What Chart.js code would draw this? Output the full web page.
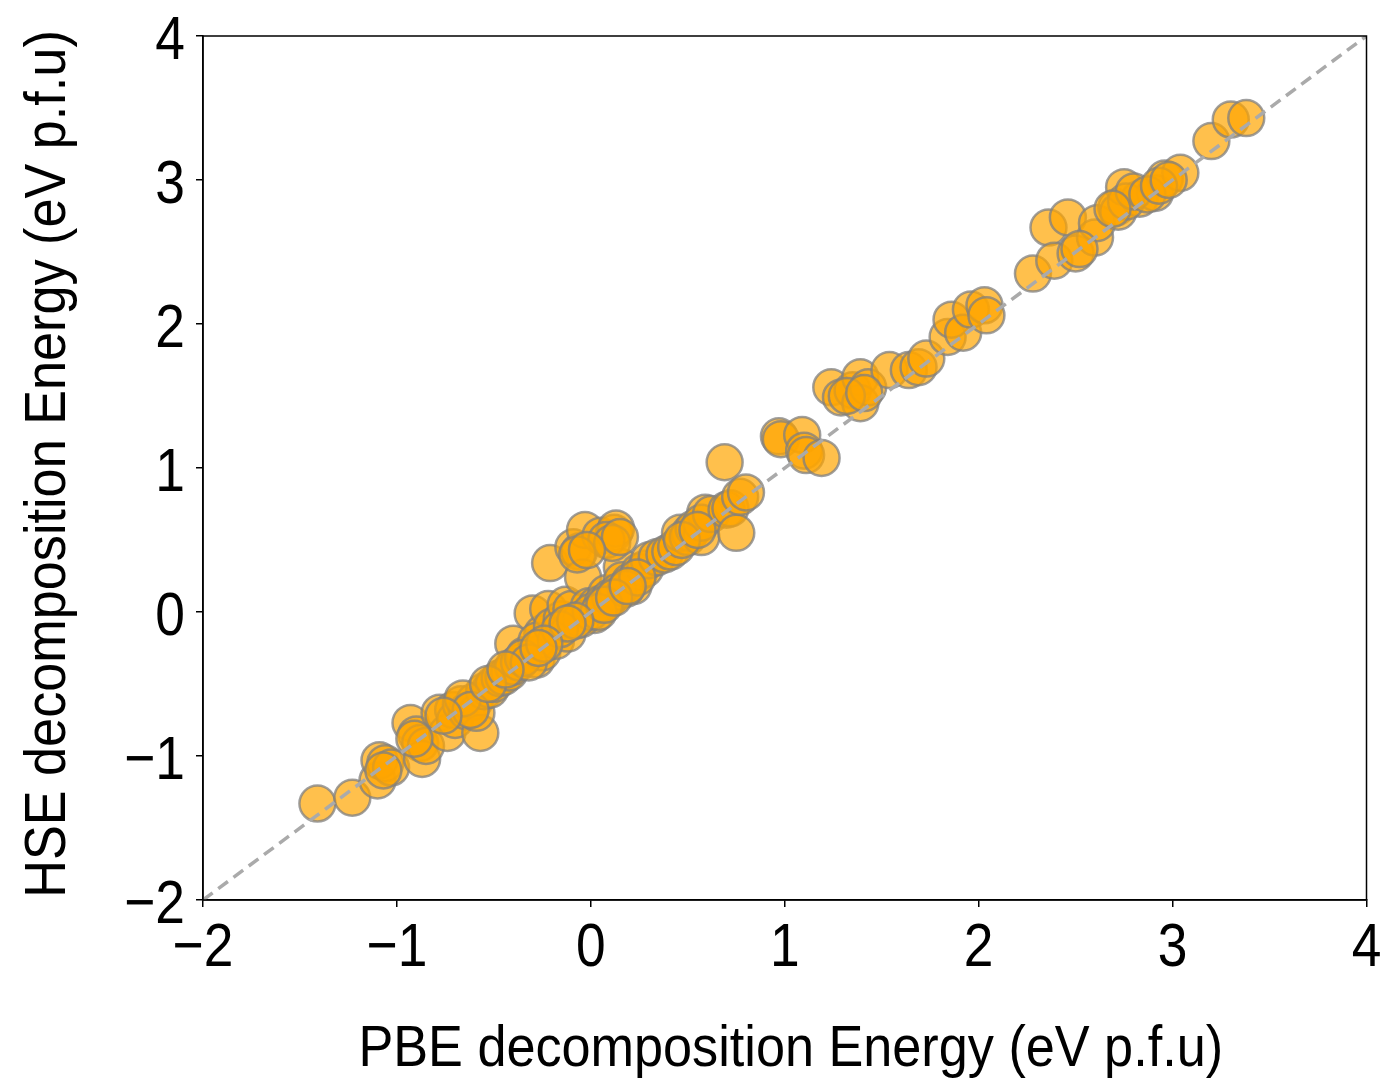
<!DOCTYPE html>
<html>
<head>
<meta charset="utf-8">
<script src="https://cdn.jsdelivr.net/npm/chart.js@4/dist/chart.umd.min.js"></script>
<style>
html,body{margin:0;padding:0;background:#fff;}
#wrap{width:1387px;height:1086px;position:relative;}
</style>
</head>
<body>
<div id="wrap"><canvas id="c" width="1387" height="1086"></canvas></div>
<script>
// PBE decomposition energy (x) and HSE decomposition energy (y), eV p.f.u
const pbe = [
 -1.41,-1.23,-1.10,-1.09,-1.06,-1.03,-0.93,-0.90,-0.88,-0.87,-0.85,
 -0.78,-0.74,-0.71,-0.70,-0.67,-0.64,-0.60,-0.57,-0.59,-0.55,-0.52,-0.50,-0.47,
 -0.45,-0.42,-0.40,-0.40,-0.37,-0.34,-0.30,-0.28,-0.25,-0.25,-0.28,-0.22,-0.20,-0.18,-0.15,-0.13,-0.12,-0.10,
 -0.21,-0.09,-0.06,-0.04,-0.03,-0.01,0.02,0.05,0.03,0.08,0.12,0.13,0.16,0.09,0.16,0.20,
 0.22,0.25,0.28,0.30,0.34,0.38,0.41,0.44,0.46,0.51,0.50,0.53,0.57,0.59,0.57,0.62,0.70,0.72,0.75,0.77,0.80,0.69,
 0.97,0.98,1.09,1.10,1.11,1.19,
 1.24,1.29,1.35,1.39,1.39,1.43,1.54,1.64,1.69,1.73,
 1.84,1.86,1.92,1.96,2.03,2.04,
 2.28,2.36,2.39,2.46,2.50,2.60,2.61,2.71,2.72,2.75,2.83,2.91,2.96,3.04,
 3.20,3.30,3.38,
 -0.05,0.00,0.06,0.10,0.14,-0.35,-0.32,-0.16,0.18,0.24,0.04,0.07,-0.08,-0.66,-0.62,-0.53,-0.44,
 0.08,0.11,0.15,-0.07,-0.02,0.12,0.19,-0.12,-0.24,-0.27,-1.07,-0.91,-0.76,2.76,2.80,2.87,2.93,2.98,2.69,2.52,1.32,1.41,0.47,0.55
];
const hse = [
 -1.33,-1.29,-1.17,-1.03,-1.05,-1.08,-0.77,-0.85,-0.91,-1.02,-0.93,
 -0.70,-0.84,-0.68,-0.75,-0.64,-0.69,-0.62,-0.84,-0.70,-0.55,-0.54,-0.50,-0.46,
 -0.45,-0.42,-0.22,-0.38,-0.35,-0.30,-0.01,-0.33,-0.28,-0.15,-0.20,0.02,-0.10,-0.20,-0.05,0.05,-0.15,0.02,
 0.34,0.45,0.42,0.24,0.57,0.04,-0.02,0.53,0.05,0.13,0.55,0.58,0.31,0.08,0.22,0.21,
 0.18,0.28,0.30,0.36,0.38,0.40,0.42,0.45,0.55,0.55,0.52,0.58,0.52,0.69,0.62,0.68,0.71,0.72,0.55,0.80,0.83,1.04,
 1.22,1.20,1.23,1.12,1.09,1.07,
 1.56,1.49,1.54,1.63,1.45,1.56,1.68,1.68,1.70,1.76,
 1.91,2.03,1.94,2.10,2.13,2.06,
 2.35,2.67,2.44,2.74,2.49,2.60,2.70,2.81,2.78,2.95,2.87,2.91,3.01,3.05,
 3.27,3.42,3.43,
 -0.05,0.00,0.06,0.10,0.14,-0.32,-0.35,-0.12,0.16,0.24,0.00,0.05,-0.06,-0.60,-0.68,-0.50,-0.40,
 0.50,0.48,0.52,0.40,0.43,0.10,0.18,-0.08,-0.22,-0.25,-1.10,-0.88,-0.72,2.85,2.92,2.90,2.96,3.00,2.80,2.52,1.50,1.52,0.50,0.57
];
const xTicks = [-2,-1,0,1,2,3,4];
const yTicks = [-2,-1,0,1,2,3,4];
const xTickLabels = ['\u22122','\u22121','0','1','2','3','4'];
const yTickLabels = ['\u22122','\u22121','0','1','2','3','4'];
const xTitle = 'PBE decomposition Energy (eV p.f.u)';
const yTitle = 'HSE decomposition Energy (eV p.f.u)';
const diag = [-2, 4];

const pts = pbe.map((x,i)=>({x:x,y:hse[i]}));
const FONT = "'Liberation Sans','Arial',sans-serif";

// condensed text drawn at positions given by the chart's scales
const labels = {
  id:'labels',
  afterDraw(chart){
    const a = chart.chartArea, ctx = chart.ctx;
    const xs = chart.scales.x, ys = chart.scales.y;
    ctx.save();
    ctx.strokeStyle = '#000';
    ctx.lineWidth = 1.5;
    ctx.strokeRect(a.left, a.top, a.right-a.left, a.bottom-a.top);
    ctx.fillStyle = '#000';
    const tickFont = '62px ' + FONT, tickSx = 0.86;
    ctx.font = tickFont;
    ctx.textBaseline = 'alphabetic';
    ctx.textAlign = 'center';
    xTicks.forEach((v,i)=>{
      ctx.save();
      ctx.translate(xs.getPixelForValue(v), a.bottom + 66);
      ctx.scale(tickSx,1);
      ctx.fillText(xTickLabels[i],0,0);
      ctx.restore();
    });
    ctx.textAlign = 'right';
    yTicks.forEach((v,i)=>{
      ctx.save();
      ctx.translate(a.left - 18, ys.getPixelForValue(v) + 23);
      ctx.scale(tickSx,1);
      ctx.fillText(yTickLabels[i],0,0);
      ctx.restore();
    });
    const titleSx = 0.9;
    ctx.font = '58px ' + FONT;
    ctx.textAlign = 'center';
    ctx.save();
    ctx.translate((a.left+a.right)/2 + 6, 1066);
    ctx.scale(titleSx,1);
    ctx.fillText(xTitle,0,0);
    ctx.restore();
    ctx.save();
    ctx.translate(65, (a.top+a.bottom)/2 - 4);
    ctx.rotate(-Math.PI/2);
    ctx.scale(titleSx,1);
    ctx.fillText(yTitle,0,0);
    ctx.restore();
    ctx.restore();
  }
};

new Chart(document.getElementById('c'), {
  type:'scatter',
  data:{datasets:[
    {type:'line', data: diag.map(v=>({x:v,y:v})), borderColor:'#aaaaaa', borderWidth:3.5,
     borderDash:[12,7], pointRadius:0, fill:false, order:0},
    {type:'scatter', data: pts, backgroundColor:'rgba(255,165,0,0.7)',
     borderColor:'rgba(128,128,128,0.75)', borderWidth:2.5, pointRadius:18, pointHoverRadius:18, order:1}
  ]},
  options:{
    responsive:false, animation:false, devicePixelRatio:1,
    layout:{padding:{top:36,right:18,left:0,bottom:0}},
    plugins:{legend:{display:false}, tooltip:{enabled:false}},
    scales:{
      x:{type:'linear', min:-2, max:4,
         afterBuildTicks(s){ s.ticks = xTicks.map(v=>({value:v})); },
         afterFit(s){ s.height = 186; },
         grid:{display:true, drawOnChartArea:false, tickLength:7, tickColor:'#000', lineWidth:1.5},
         border:{display:true,color:'#000',width:1.5},
         ticks:{display:false},
         title:{display:false}
      },
      y:{type:'linear', min:-2, max:4,
         afterBuildTicks(s){ s.ticks = yTicks.map(v=>({value:v})); },
         afterFit(s){ s.width = 203; },
         grid:{display:true, drawOnChartArea:false, tickLength:7, tickColor:'#000', lineWidth:1.5},
         border:{display:true,color:'#000',width:1.5},
         ticks:{display:false},
         title:{display:false}
      }
    }
  },
  plugins:[labels]
});
</script>
</body>
</html>
